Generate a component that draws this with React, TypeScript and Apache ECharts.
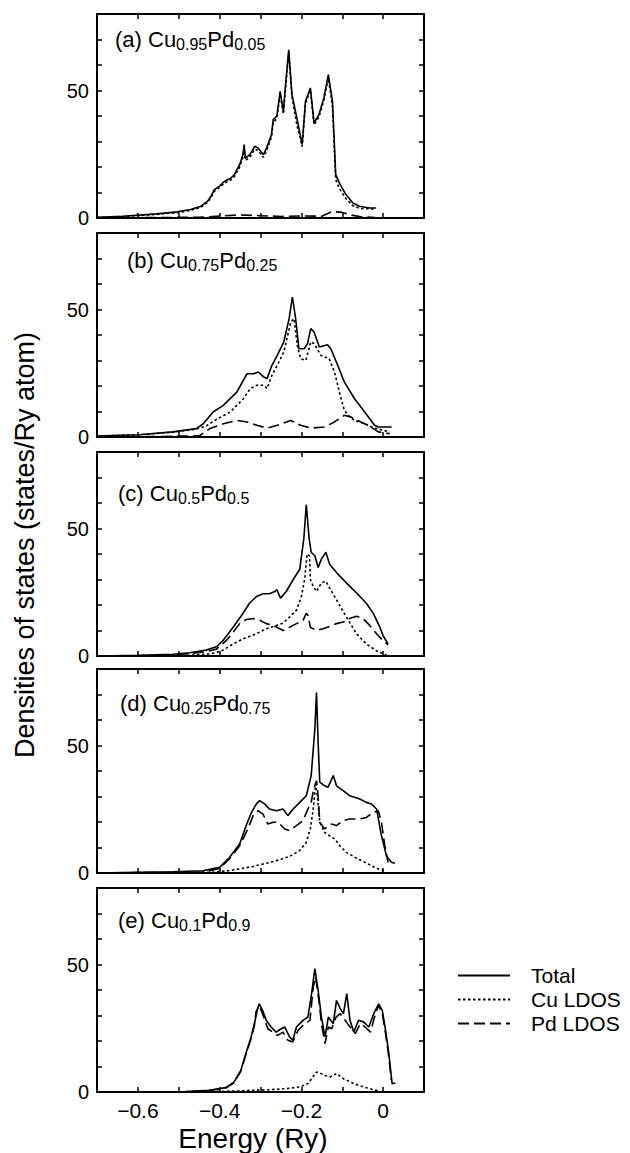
import React, { useEffect, useRef } from 'react';
import * as echarts from 'echarts';

const FONT = '"Liberation Sans", Arial, Helvetica, sans-serif';

// x tick labels (Energy, Ry)
const xTickValues = [-0.6, -0.4, -0.2, 0];
const xTickLabels = ['\u22120.6', '\u22120.4', '\u22120.2', '0'];
// y tick labels
const yTickValues = [0, 50];
const yTickLabels = ['0', '50'];

const seriesNames = ['Total', 'Cu LDOS', 'Pd LDOS'];

const panelLabels = [
  ['(a) Cu', '0.95', 'Pd', '0.05'],
  ['(b) Cu', '0.75', 'Pd', '0.25'],
  ['(c) Cu', '0.5', 'Pd', '0.5'],
  ['(d) Cu', '0.25', 'Pd', '0.75'],
  ['(e) Cu', '0.1', 'Pd', '0.9'],
];

// ---- (a) Cu0.95Pd0.05 ----
const aTotal = [[-0.7,0.3],[-0.636,0.7],[-0.554,1.6],[-0.504,2.4],[-0.471,3.3],[-0.446,4.6],[-0.43,6.5],[-0.421,8.5],[-0.413,11.1],[-0.401,12.4],[-0.388,14.4],[-0.372,15.7],[-0.364,17.0],[-0.351,20.9],[-0.343,24.8],[-0.34,28.8],[-0.337,23.5],[-0.326,24.8],[-0.314,28.1],[-0.306,27.5],[-0.293,24.8],[-0.285,27.5],[-0.273,32.7],[-0.269,38.6],[-0.26,39.9],[-0.252,49.7],[-0.244,41.8],[-0.24,49.7],[-0.231,66.0],[-0.223,48.4],[-0.211,39.2],[-0.198,28.8],[-0.19,45.8],[-0.178,51.0],[-0.169,37.3],[-0.157,40.5],[-0.145,47.1],[-0.134,56.2],[-0.124,45.8],[-0.116,17.0],[-0.107,13.7],[-0.091,9.2],[-0.074,5.9],[-0.058,4.6],[-0.033,3.9],[-0.017,3.9]];
const aCu = [[-0.7,0.2],[-0.636,0.6],[-0.554,1.4],[-0.504,2.1],[-0.471,3.0],[-0.446,4.2],[-0.43,6.0],[-0.421,8.0],[-0.413,10.5],[-0.401,11.8],[-0.388,13.7],[-0.372,15.0],[-0.364,16.2],[-0.351,20.0],[-0.343,23.8],[-0.34,27.5],[-0.337,22.6],[-0.326,23.8],[-0.314,27.0],[-0.306,26.5],[-0.293,23.8],[-0.285,26.5],[-0.273,31.8],[-0.269,37.6],[-0.26,38.9],[-0.252,48.6],[-0.244,40.8],[-0.24,48.6],[-0.231,65.0],[-0.223,47.4],[-0.211,36.5],[-0.198,28.0],[-0.19,45.0],[-0.178,50.2],[-0.169,36.5],[-0.157,39.6],[-0.145,46.2],[-0.134,54.8],[-0.124,44.0],[-0.116,15.0],[-0.107,11.5],[-0.091,7.6],[-0.074,4.8],[-0.058,3.8],[-0.033,3.5],[-0.017,3.6]];
const aPd = [[-0.7,0],[-0.45,0.3],[-0.35,1.2],[-0.3,0.9],[-0.25,0.6],[-0.2,0.8],[-0.15,0.7],[-0.125,2.5],[-0.1,2.2],[-0.08,1.2],[-0.05,0.4],[-0.02,0.2]];

// ---- (b) Cu0.75Pd0.25 ----
const bTotal = [[-0.7,0.4],[-0.597,0.9],[-0.514,2.0],[-0.457,3.3],[-0.44,5.2],[-0.416,9.8],[-0.391,12.4],[-0.358,17.6],[-0.333,24.8],[-0.317,24.8],[-0.305,25.5],[-0.292,23.5],[-0.284,22.9],[-0.272,28.1],[-0.259,32.0],[-0.243,37.3],[-0.23,46.4],[-0.222,54.9],[-0.214,46.4],[-0.206,34.6],[-0.193,34.6],[-0.185,36.6],[-0.177,42.5],[-0.169,41.2],[-0.156,35.3],[-0.136,36.2],[-0.128,34.6],[-0.111,28.1],[-0.095,21.6],[-0.07,15.0],[-0.045,9.8],[-0.021,4.6],[-0.012,3.9],[0.021,3.9]];
const bCu = [[-0.7,0.4],[-0.597,0.9],[-0.514,1.9],[-0.457,3.1],[-0.432,4.4],[-0.407,7.0],[-0.374,9.8],[-0.342,15.0],[-0.325,19.0],[-0.309,20.3],[-0.292,20.3],[-0.284,19.0],[-0.272,24.2],[-0.259,28.1],[-0.243,33.3],[-0.226,45.1],[-0.218,46.4],[-0.21,35.9],[-0.202,30.7],[-0.189,30.1],[-0.177,37.3],[-0.169,36.6],[-0.152,32.0],[-0.132,30.7],[-0.119,25.5],[-0.107,17.6],[-0.095,10.5],[-0.082,7.8],[-0.07,6.5],[-0.045,5.2],[-0.021,3.5],[0.016,2.0]];
const bPd = [[-0.7,0],[-0.55,0.2],[-0.449,0.5],[-0.424,3.3],[-0.391,5.2],[-0.358,6.5],[-0.333,5.9],[-0.309,4.6],[-0.284,3.5],[-0.259,4.6],[-0.226,6.5],[-0.202,4.6],[-0.177,3.5],[-0.144,3.9],[-0.119,5.9],[-0.095,8.5],[-0.078,7.8],[-0.062,6.5],[-0.037,4.6],[-0.012,2.0],[0.016,1.3]];

// ---- (c) Cu0.5Pd0.5 ----
const cTotal = [[-0.7,0],[-0.596,0.3],[-0.514,0.7],[-0.473,1.3],[-0.433,2.3],[-0.408,3.6],[-0.392,6.0],[-0.367,11.3],[-0.343,16.7],[-0.327,20.7],[-0.31,23.3],[-0.294,24.4],[-0.278,24.4],[-0.265,25.3],[-0.26,26.0],[-0.251,22.7],[-0.237,25.3],[-0.22,30.0],[-0.204,34.0],[-0.194,46.0],[-0.188,59.3],[-0.181,46.0],[-0.176,40.7],[-0.167,39.3],[-0.159,34.7],[-0.151,38.0],[-0.14,40.7],[-0.131,36.0],[-0.114,32.7],[-0.09,28.7],[-0.065,24.7],[-0.041,20.7],[-0.024,16.7],[-0.008,11.3],[0.0,8.0],[0.012,4.7]];
const cCu = [[-0.7,0],[-0.55,0.2],[-0.473,0.3],[-0.433,0.7],[-0.408,1.3],[-0.392,2.3],[-0.367,4.7],[-0.343,6.7],[-0.31,8.7],[-0.286,10.7],[-0.261,12.0],[-0.245,12.9],[-0.229,15.3],[-0.212,18.0],[-0.2,23.3],[-0.192,30.0],[-0.186,40.0],[-0.18,39.3],[-0.178,30.0],[-0.171,27.3],[-0.163,25.3],[-0.151,28.7],[-0.14,29.3],[-0.131,26.7],[-0.114,22.0],[-0.09,15.3],[-0.065,8.7],[-0.041,4.7],[-0.016,2.0],[0.008,0.4]];
const cPd = [[-0.7,0],[-0.555,0.1],[-0.473,0.9],[-0.433,1.7],[-0.408,2.7],[-0.384,6.0],[-0.367,9.3],[-0.351,12.7],[-0.335,14.3],[-0.318,14.7],[-0.302,14.0],[-0.286,12.7],[-0.269,12.0],[-0.253,10.7],[-0.245,10.0],[-0.229,11.3],[-0.212,12.7],[-0.196,14.0],[-0.188,16.7],[-0.184,16.0],[-0.178,11.3],[-0.163,10.0],[-0.147,10.7],[-0.131,11.6],[-0.114,12.7],[-0.098,13.3],[-0.082,14.7],[-0.065,15.6],[-0.049,14.7],[-0.033,12.0],[-0.016,8.7],[0.0,6.0],[0.012,4.4]];

// ---- (d) Cu0.25Pd0.75 ----
const dTotal = [[-0.7,0],[-0.604,0.3],[-0.514,0.5],[-0.441,0.9],[-0.4,2.2],[-0.376,6.1],[-0.351,11.4],[-0.335,18.6],[-0.322,23.8],[-0.31,27.1],[-0.302,28.4],[-0.29,27.1],[-0.278,25.1],[-0.261,24.4],[-0.245,25.1],[-0.233,22.5],[-0.22,25.1],[-0.204,27.7],[-0.188,30.3],[-0.176,38.2],[-0.167,56.5],[-0.163,70.8],[-0.159,51.2],[-0.155,35.6],[-0.143,34.2],[-0.135,33.6],[-0.122,38.2],[-0.114,34.2],[-0.098,32.3],[-0.082,30.3],[-0.057,29.0],[-0.041,27.7],[-0.029,27.1],[-0.016,25.1],[-0.004,14.6],[0.008,6.8],[0.02,4.2],[0.029,3.8]];
const dCu = [[-0.7,0],[-0.5,0.1],[-0.416,0.3],[-0.384,0.8],[-0.351,1.6],[-0.318,2.6],[-0.286,3.8],[-0.253,5.2],[-0.229,6.5],[-0.204,8.8],[-0.188,12.0],[-0.178,17.3],[-0.171,25.1],[-0.165,34.9],[-0.161,30.3],[-0.155,19.9],[-0.143,15.9],[-0.131,14.6],[-0.118,13.3],[-0.106,10.7],[-0.09,8.1],[-0.065,5.8],[-0.041,3.9],[-0.016,1.8],[0.008,0.5]];
const dPd = [[-0.7,0],[-0.55,0.2],[-0.441,0.3],[-0.4,1.8],[-0.376,5.5],[-0.351,10.7],[-0.331,17.3],[-0.318,22.5],[-0.306,24.4],[-0.294,23.1],[-0.282,19.2],[-0.269,19.9],[-0.257,19.9],[-0.241,17.3],[-0.229,16.6],[-0.212,18.6],[-0.196,20.5],[-0.184,25.1],[-0.176,27.7],[-0.17,32.9],[-0.163,36.2],[-0.159,30.3],[-0.155,19.9],[-0.143,17.3],[-0.127,19.2],[-0.114,18.6],[-0.098,20.5],[-0.082,21.2],[-0.057,21.2],[-0.041,21.8],[-0.024,23.8],[-0.012,24.4],[-0.004,19.9],[0.004,10.7],[0.012,4.2]];

// ---- (e) Cu0.1Pd0.9 ----
const eTotal = [[-0.7,0],[-0.484,0.2],[-0.426,0.7],[-0.385,1.7],[-0.365,3.9],[-0.348,8.5],[-0.336,15.0],[-0.323,21.6],[-0.315,26.8],[-0.307,32.7],[-0.303,34.6],[-0.295,32.0],[-0.286,28.1],[-0.274,25.5],[-0.262,23.5],[-0.249,24.8],[-0.241,25.5],[-0.229,21.6],[-0.221,20.3],[-0.212,25.5],[-0.196,28.1],[-0.184,29.4],[-0.175,38.6],[-0.167,48.4],[-0.159,39.9],[-0.151,29.4],[-0.142,21.6],[-0.134,29.4],[-0.122,26.8],[-0.114,35.9],[-0.105,32.7],[-0.097,30.7],[-0.089,38.6],[-0.081,28.1],[-0.072,23.5],[-0.06,28.1],[-0.048,27.5],[-0.035,25.5],[-0.023,30.7],[-0.011,34.6],[-0.002,32.0],[0.006,24.2],[0.014,15.0],[0.022,3.3],[0.03,3.5]];
const eCu = [[-0.7,0],[-0.484,0],[-0.36,0.4],[-0.319,0.7],[-0.278,0.9],[-0.237,1.3],[-0.204,2.0],[-0.184,3.3],[-0.163,7.8],[-0.151,7.2],[-0.142,6.5],[-0.13,5.9],[-0.114,7.2],[-0.097,5.2],[-0.072,3.3],[-0.048,2.0],[-0.023,0.9],[-0.007,0.4]];
const ePd = [[-0.7,0],[-0.484,0.1],[-0.426,0.6],[-0.385,1.5],[-0.365,3.6],[-0.348,8.2],[-0.336,14.5],[-0.323,21.0],[-0.315,26.0],[-0.311,31.4],[-0.303,34.0],[-0.295,30.7],[-0.282,24.8],[-0.27,23.5],[-0.258,22.2],[-0.245,23.5],[-0.233,20.3],[-0.221,19.6],[-0.208,24.2],[-0.192,26.8],[-0.179,28.1],[-0.171,41.2],[-0.165,45.1],[-0.156,34.6],[-0.151,26.8],[-0.142,19.0],[-0.134,25.5],[-0.126,24.8],[-0.115,29.4],[-0.105,30.7],[-0.093,28.1],[-0.081,25.5],[-0.068,22.9],[-0.056,26.8],[-0.044,25.5],[-0.031,23.5],[-0.021,29.4],[-0.011,34.0],[-0.002,30.7],[0.006,22.9],[0.014,13.7],[0.02,4.6]];

const panelData = [
  [aTotal, aCu, aPd],
  [bTotal, bCu, bPd],
  [cTotal, cCu, cPd],
  [dTotal, dCu, dPd],
  [eTotal, eCu, ePd],
];

// layout (pixels)
const GRID_LEFT = 97;
const GRID_WIDTH = 327;
const GRID_HEIGHT = 204;
const panelTops = [14, 233, 452, 669, 888];
const labelLeft = [115, 127, 118, 120, 118];
const labelTop = [26, 28, 42, 35, 33];

const lineTypes = ['solid', [2.5, 2.5], [11, 5]];

export default function App() {
  const ref = useRef<HTMLDivElement>(null);

  useEffect(() => {
    if (!ref.current) return;
    const chart = echarts.init(ref.current, null, { renderer: 'svg' });

    const grids = panelTops.map((t) => ({ left: GRID_LEFT, top: t, width: GRID_WIDTH, height: GRID_HEIGHT, show: false }));
    const xAxes: any[] = [];
    const yAxes: any[] = [];
    const axisLine = { show: true, onZero: false, lineStyle: { color: '#000', width: 2 } };
    const tick = { show: true, inside: true, length: 5, lineStyle: { color: '#000', width: 1.5 } };
    panelTops.forEach((_, i) => {
      const last = i === panelTops.length - 1;
      xAxes.push({
        type: 'value', gridIndex: i, position: 'bottom', min: -0.7, max: 0.1, interval: 0.1,
        axisLine, axisTick: tick, splitLine: { show: false },
        axisLabel: {
          show: last, margin: 8, color: '#000', fontSize: 21, fontFamily: FONT,
          formatter: (v: number) => {
            const k = xTickValues.findIndex((t) => Math.abs(t - v) < 1e-6);
            return k >= 0 ? xTickLabels[k] : '';
          },
        },
      });
      xAxes.push({
        type: 'value', gridIndex: i, position: 'top', min: -0.7, max: 0.1, interval: 0.1,
        axisLine, axisTick: tick, splitLine: { show: false }, axisLabel: { show: false },
      });
      yAxes.push({
        type: 'value', gridIndex: i, position: 'left', min: 0, max: 80, interval: 10,
        axisLine, axisTick: tick, splitLine: { show: false },
        axisLabel: {
          show: true, margin: 8, color: '#000', fontSize: 20, fontFamily: FONT,
          formatter: (v: number) => {
            const k = yTickValues.findIndex((t) => Math.abs(t - v) < 1e-6);
            return k >= 0 ? yTickLabels[k] : '';
          },
        },
      });
      yAxes.push({
        type: 'value', gridIndex: i, position: 'right', min: 0, max: 80, interval: 10,
        axisLine, axisTick: tick, splitLine: { show: false }, axisLabel: { show: false },
      });
    });

    const series: any[] = [];
    panelData.forEach((group, i) => {
      group.forEach((data, j) => {
        series.push({
          type: 'line', name: seriesNames[j], xAxisIndex: 2 * i, yAxisIndex: 2 * i,
          data, symbol: 'none', showSymbol: false, smooth: false, z: 3 - j,
          lineStyle: { color: '#000', width: 1.6, type: lineTypes[j] },
          itemStyle: { color: '#000' },
        });
      });
    });

    const titles = panelLabels.map((p, i) => ({
      left: labelLeft[i], top: panelTops[i] + labelTop[i] - 14, padding: 0,
      text: `{m|${p[0]}}{s|${p[1]}}{m|${p[2]}}{s|${p[3]}}`,
      textStyle: {
        fontWeight: 'normal',
        rich: {
          m: { fontSize: 22, fontFamily: FONT, fontWeight: 'normal', color: '#000', lineHeight: 26 },
          s: { fontSize: 16, fontFamily: FONT, fontWeight: 'normal', color: '#000', lineHeight: 10, verticalAlign: 'bottom' },
        },
      },
    }));

    chart.setOption({
      animation: false,
      backgroundColor: '#fff',
      title: titles,
      grid: grids,
      xAxis: xAxes,
      yAxis: yAxes,
      series,
      legend: {
        orient: 'vertical', left: 452, top: 960, itemWidth: 52, itemHeight: 14, itemGap: 3,
        data: seriesNames, selectedMode: false,
        itemStyle: { color: 'rgba(0,0,0,0)', borderColor: 'rgba(0,0,0,0)', borderWidth: 0, opacity: 0 },
        textStyle: { color: '#000', fontSize: 21, fontFamily: FONT, padding: [0, 0, 0, 16] },
      },
      graphic: [
        {
          type: 'text', x: 25, y: 545, rotation: Math.PI / 2,
          style: { text: 'Densities of states (states/Ry atom)', font: `27px ${FONT}`, fill: '#000', align: 'center', verticalAlign: 'middle' },
        },
        {
          type: 'text', x: 253, y: 1138,
          style: { text: 'Energy (Ry)', font: `28px ${FONT}`, fill: '#000', align: 'center', verticalAlign: 'middle' },
        },
      ],
    });

    return () => chart.dispose();
  }, []);

  return <div ref={ref} style={{ position: 'absolute', left: 0, top: 0, width: 630, height: 1153 }} />;
}
